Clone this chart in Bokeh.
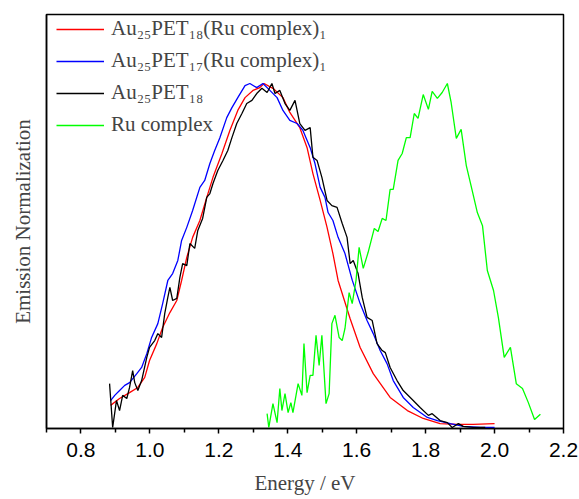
from bokeh.plotting import figure
from bokeh.models import FixedTicker, Range1d, Legend, LegendItem
from bokeh.embed import file_html
from bokeh.resources import INLINE

# Au25PET18(Ru complex)1  (red)
red_x = [0.886, 0.912, 0.941, 0.965, 0.985, 0.999, 1.020, 1.037, 1.058, 1.078, 1.092, 1.107, 1.124,
         1.145, 1.165, 1.183, 1.209, 1.232, 1.255, 1.276, 1.299, 1.319, 1.331, 1.357, 1.386, 1.406,
         1.435, 1.456, 1.473, 1.494, 1.514, 1.531, 1.546, 1.581, 1.610, 1.648, 1.697, 1.747, 1.793,
         1.842, 1.892, 1.938, 2.000]
red_y = [0.067, 0.087, 0.104, 0.119, 0.148, 0.197, 0.246, 0.293, 0.336, 0.371, 0.429, 0.496, 0.554,
         0.603, 0.670, 0.728, 0.797, 0.864, 0.922, 0.959, 0.980, 0.988, 1.000, 0.986, 0.959, 0.916,
         0.872, 0.814, 0.739, 0.661, 0.583, 0.507, 0.429, 0.318, 0.235, 0.159, 0.090, 0.052, 0.029,
         0.014, 0.012, 0.012, 0.014]

# Au25PET17(Ru complex)1  (blue)
blue_x = [0.886, 0.898, 0.912, 0.927, 0.941, 0.962, 0.976, 0.991, 1.005, 1.023, 1.037, 1.052, 1.066,
          1.081, 1.092, 1.107, 1.124, 1.145, 1.159, 1.174, 1.188, 1.203, 1.223, 1.238, 1.255, 1.276,
          1.290, 1.310, 1.328, 1.348, 1.369, 1.386, 1.406, 1.427, 1.444, 1.465, 1.479, 1.494, 1.508,
          1.517, 1.531, 1.546, 1.566, 1.587, 1.610, 1.630, 1.648, 1.668, 1.688, 1.706, 1.735, 1.764,
          1.805, 1.834, 1.872, 1.909, 1.959, 2.000]
blue_y = [0.081, 0.096, 0.110, 0.125, 0.133, 0.159, 0.177, 0.217, 0.264, 0.304, 0.362, 0.429, 0.449,
          0.487, 0.545, 0.583, 0.632, 0.699, 0.719, 0.768, 0.806, 0.843, 0.901, 0.930, 0.959, 0.994,
          1.000, 0.988, 1.000, 0.980, 0.959, 0.922, 0.893, 0.884, 0.864, 0.814, 0.768, 0.699, 0.670,
          0.626, 0.603, 0.554, 0.507, 0.430, 0.362, 0.313, 0.275, 0.226, 0.188, 0.139, 0.090, 0.061,
          0.032, 0.023, 0.014, 0.006, 0.003, 0.003]

# Au25PET18  (black)
black_x = [0.883, 0.892, 0.903, 0.912, 0.921, 0.933, 0.941, 0.950, 0.956, 0.965, 0.976, 0.991, 0.999,
           1.014, 1.023, 1.034, 1.043, 1.052, 1.058, 1.066, 1.078, 1.087, 1.095, 1.107, 1.116, 1.130,
           1.139, 1.153, 1.165, 1.174, 1.183, 1.197, 1.212, 1.226, 1.238, 1.252, 1.267, 1.281, 1.296,
           1.310, 1.325, 1.340, 1.354, 1.363, 1.377, 1.392, 1.406, 1.421, 1.435, 1.450, 1.465, 1.473,
           1.485, 1.499, 1.514, 1.528, 1.543, 1.558, 1.572, 1.581, 1.590, 1.604, 1.616, 1.630, 1.645,
           1.659, 1.674, 1.683, 1.697, 1.717, 1.735, 1.764, 1.784, 1.808, 1.819, 1.842, 1.863, 1.877,
           1.895, 1.909, 1.938, 1.973]
black_y = [0.130, 0.003, 0.081, 0.052, 0.096, 0.087, 0.119, 0.168, 0.133, 0.110, 0.139, 0.206, 0.235,
           0.255, 0.275, 0.264, 0.333, 0.380, 0.409, 0.371, 0.377, 0.438, 0.478, 0.472, 0.536, 0.522,
           0.574, 0.609, 0.670, 0.681, 0.710, 0.748, 0.777, 0.806, 0.843, 0.884, 0.913, 0.942, 0.951,
           0.971, 0.986, 0.974, 1.000, 0.971, 0.980, 0.942, 0.922, 0.951, 0.884, 0.864, 0.872, 0.786,
           0.777, 0.728, 0.661, 0.646, 0.641, 0.594, 0.554, 0.478, 0.487, 0.449, 0.380, 0.322, 0.313,
           0.246, 0.226, 0.220, 0.177, 0.139, 0.110, 0.081, 0.061, 0.038, 0.043, 0.023, 0.017, 0.003,
           0.014, 0.006, 0.003, 0.003]

# Ru complex  (green)
green_x = [1.340, 1.345, 1.357, 1.369, 1.377, 1.383, 1.392, 1.401, 1.409, 1.415, 1.430, 1.441, 1.447,
           1.456, 1.465, 1.473, 1.482, 1.491, 1.499, 1.511, 1.520, 1.528, 1.537, 1.549, 1.558, 1.566,
           1.578, 1.587, 1.598, 1.607, 1.619, 1.633, 1.651, 1.662, 1.674, 1.685, 1.697, 1.706, 1.720,
           1.732, 1.744, 1.755, 1.767, 1.778, 1.793, 1.808, 1.819, 1.834, 1.848, 1.863, 1.874, 1.889,
           1.903, 1.918, 1.935, 1.950, 1.965, 1.979, 1.997, 2.011, 2.028, 2.046, 2.063, 2.081, 2.098,
           2.116, 2.133]
green_y = [0.043, 0.003, 0.072, 0.017, 0.116, 0.052, 0.101, 0.046, 0.075, 0.046, 0.130, 0.096, 0.246,
           0.104, 0.154, 0.154, 0.270, 0.183, 0.270, 0.072, 0.101, 0.304, 0.328, 0.264, 0.255, 0.290,
           0.394, 0.362, 0.429, 0.525, 0.464, 0.510, 0.580, 0.571, 0.609, 0.603, 0.693, 0.693, 0.777,
           0.797, 0.843, 0.843, 0.913, 0.899, 0.968, 0.925, 0.977, 0.957, 0.974, 1.000, 0.945, 0.841,
           0.867, 0.762, 0.690, 0.626, 0.588, 0.458, 0.400, 0.322, 0.206, 0.235, 0.130, 0.116, 0.075,
           0.026, 0.041]

series_labels = ["Au₂₅PET₁₈(Ru complex)₁", "Au₂₅PET₁₇(Ru complex)₁", "Au₂₅PET₁₈", "Ru complex"]
series_colors = ["#FF0000", "#0000FF", "#000000", "#00FF00"]

x_ticks = [0.8, 1.0, 1.2, 1.4, 1.6, 1.8, 2.0, 2.2]
x_tick_labels = ["0.8", "1.0", "1.2", "1.4", "1.6", "1.8", "2.0", "2.2"]
x_minor = [0.7, 0.9, 1.1, 1.3, 1.5, 1.7, 1.9, 2.1]

p = figure(width=579, height=499, output_backend="svg", toolbar_location=None,
           x_range=Range1d(0.7, 2.2), y_range=Range1d(0, 1.2),
           min_border_left=46, min_border_right=16, min_border_top=14, min_border_bottom=71)
p.background_fill_color = "white"
p.border_fill_color = "white"
p.xgrid.visible = False
p.ygrid.visible = False
p.outline_line_color = "black"
p.outline_line_width = 1.5

renderers = []
for xs, ys, c in [(red_x, red_y, series_colors[0]), (blue_x, blue_y, series_colors[1]),
                  (black_x, black_y, series_colors[2]), (green_x, green_y, series_colors[3])]:
    r = p.line(xs, ys, line_color=c, line_width=1.3)
    renderers.append(r)

legend = Legend(items=[LegendItem(label=l, renderers=[r]) for l, r in zip(series_labels, renderers)],
                location=(10, 291))
legend.border_line_color = None
legend.background_fill_alpha = 0
legend.label_text_font = "Liberation Serif"
legend.label_text_font_size = "21px"
legend.glyph_width = 48
legend.glyph_height = 24
legend.label_height = 24
legend.spacing = 7
legend.padding = 7
legend.margin = 0
legend.label_standoff = 7
p.add_layout(legend)

xa = p.xaxis[0]
xa.ticker = FixedTicker(ticks=x_ticks, minor_ticks=x_minor)
xa.major_label_overrides = {t: s for t, s in zip(x_ticks, x_tick_labels)}
xa.major_label_text_font = "Liberation Sans"
xa.major_label_text_font_size = "21px"
xa.major_label_text_color = "black"
xa.major_tick_out = 5
xa.major_tick_in = 0
xa.minor_tick_out = 4
xa.minor_tick_in = 0
xa.major_tick_line_width = 1.5
xa.minor_tick_line_width = 1.5
xa.axis_line_width = 1.5
xa.axis_label = "Energy / eV"
xa.axis_label_text_font = "Liberation Serif"
xa.axis_label_text_font_style = "normal"
xa.axis_label_text_font_size = "21px"
xa.axis_label_standoff = 11
xa.major_label_standoff = 9

ya = p.yaxis[0]
ya.ticker = FixedTicker(ticks=[], minor_ticks=[])
ya.axis_line_width = 1.5
ya.axis_label = "Emission Normalization"
ya.axis_label_text_font = "Liberation Serif"
ya.axis_label_text_font_style = "normal"
ya.axis_label_text_font_size = "21px"
ya.axis_label_standoff = 12

open("out.html", "w").write(file_html(p, INLINE))
